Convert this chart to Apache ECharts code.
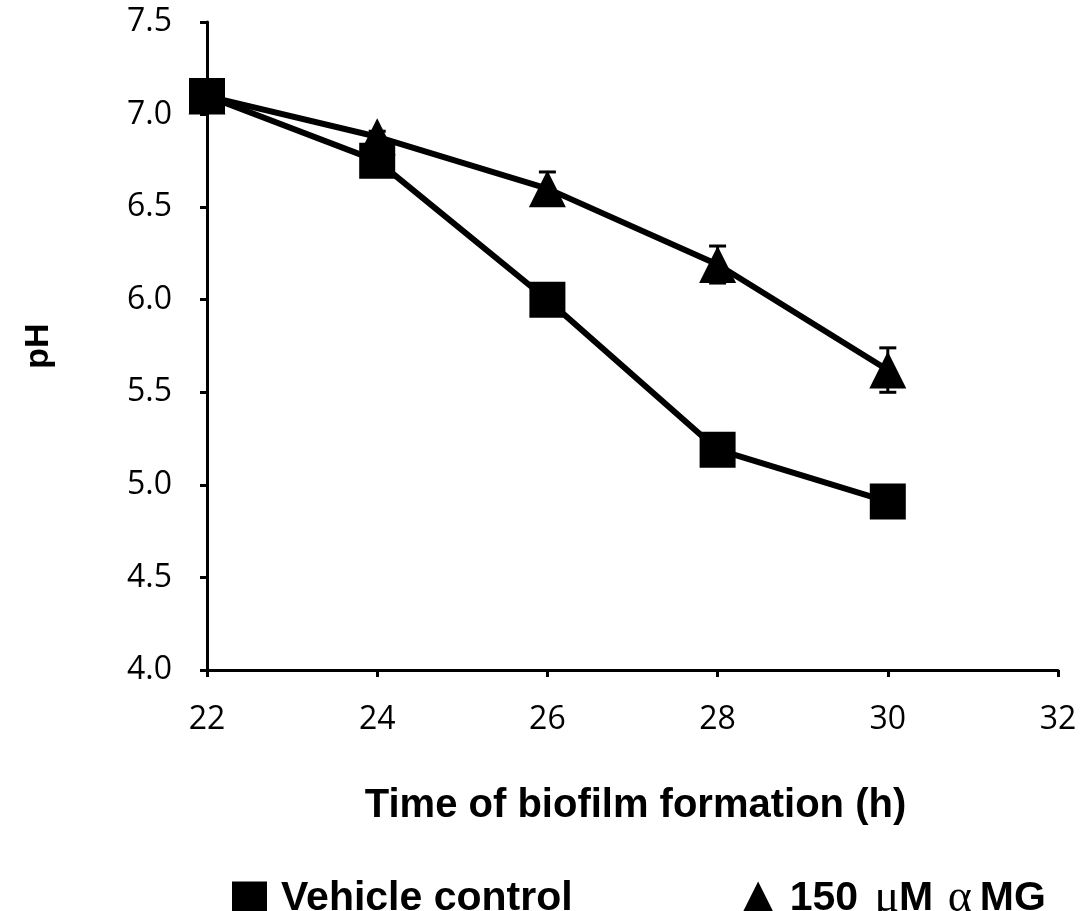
<!DOCTYPE html>
<html>
<head>
<meta charset="utf-8">
<script src="https://cdn.jsdelivr.net/npm/echarts@6/dist/echarts.min.js"></script>
<style>
html,body{margin:0;padding:0;background:#fff;}
#chart{width:1080px;height:911px;}
</style>
</head>
<body>
<div id="chart"></div>
<script>
// Data
var hours = [22, 24, 26, 28, 30];
var vehicleControl = [7.1, 6.75, 6.0, 5.19, 4.91];
var alphaMG = [7.1, 6.88, 6.6, 6.19, 5.62];
var alphaMGErr = [0, 0.03, 0.09, 0.1, 0.12];
var xTicks = [22, 24, 26, 28, 30, 32];
var yTicks = [4.0, 4.5, 5.0, 5.5, 6.0, 6.5, 7.0, 7.5];
var seriesNames = ['Vehicle control', '150 μM αMG'];

var chart = echarts.init(document.getElementById('chart'), null, {renderer: 'canvas'});

function pairs(vals) {
  return hours.map(function (h, i) { return [h, vals[i]]; });
}

var errData = hours.map(function (h, i) { return [h, alphaMG[i], alphaMGErr[i]]; });

var option = {
  backgroundColor: '#ffffff',
  animation: false,
  grid: {left: 207, right: 22, top: 22, bottom: 241, containLabel: false},
  xAxis: {
    type: 'value',
    min: xTicks[0], max: xTicks[xTicks.length - 1], interval: 2,
    name: 'Time of biofilm formation (h)',
    nameLocation: 'middle',
    nameGap: 116,
    nameTextStyle: {fontFamily: 'Liberation Sans, Arial, sans-serif', fontWeight: 'bold', fontSize: 40, color: '#000', padding: [0, 0, 0, 6]},
    axisLine: {show: true, lineStyle: {color: '#000', width: 3}},
    axisTick: {show: true, length: 7, lineStyle: {color: '#000', width: 3}},
    axisLabel: {color: '#000', fontFamily: 'Open Sans, sans-serif', fontSize: 32, margin: 34},
    splitLine: {show: false}
  },
  yAxis: {
    type: 'value',
    min: yTicks[0], max: yTicks[yTicks.length - 1], interval: 0.5,
    name: 'pH',
    nameLocation: 'middle',
    nameGap: 151,
    nameRotate: 90,
    nameTextStyle: {fontFamily: 'Liberation Sans, Arial, sans-serif', fontWeight: 'bold', fontSize: 34, color: '#000'},
    axisLine: {show: true, lineStyle: {color: '#000', width: 3}},
    axisTick: {show: true, length: 7, lineStyle: {color: '#000', width: 3}},
    axisLabel: {color: '#000', fontFamily: 'Open Sans, sans-serif', fontSize: 32, margin: 35,
      formatter: function (v) { return v.toFixed(1); }},
    splitLine: {show: false}
  },
  legend: {
    left: 227, top: 871,
    itemWidth: 35, itemHeight: 35, itemGap: 168,
    selectedMode: false,
    data: [
      {name: seriesNames[0], icon: 'rect'},
      {name: seriesNames[1], icon: 'triangle'}
    ],
    formatter: function (name) {
      if (name === seriesNames[1]) {
        return '{b|150 }{g1|μ}{b|M }{g2|α}{b|MG}';
      }
      return '{b|' + name + '}';
    },
    textStyle: {
      padding: [0, 0, 0, 9],
      rich: {
        b: {fontFamily: 'Liberation Sans, Arial, sans-serif', fontWeight: 'bold', fontSize: 41, color: '#000'},
        g1: {fontFamily: 'Liberation Serif, Times New Roman, serif', fontWeight: 'normal', fontSize: 46, color: '#000', padding: [0, 0, 0, 5]},
        g2: {fontFamily: 'Liberation Serif, Times New Roman, serif', fontWeight: 'normal', fontSize: 46, color: '#000', padding: [0, 8, 0, 3]}
      }
    }
  },
  series: [
    {
      name: seriesNames[1],
      type: 'line',
      data: pairs(alphaMG),
      symbol: 'triangle',
      symbolSize: [37, 37],
      lineStyle: {color: '#000', width: 6},
      itemStyle: {color: '#000', borderWidth: 0},
      z: 2
    },
    {
      name: 'errorbars',
      type: 'custom',
      data: errData,
      z: 3,
      renderItem: function (params, api) {
        var x = api.value(0), y = api.value(1), e = api.value(2);
        if (!e) return null;
        var top = api.coord([x, y + e]);
        var bot = api.coord([x, y - e]);
        var hw = 8.5;
        var st = {stroke: '#000', lineWidth: 3};
        return {
          type: 'group',
          children: [
            {type: 'line', shape: {x1: top[0], y1: top[1], x2: bot[0], y2: bot[1]}, style: st},
            {type: 'line', shape: {x1: top[0] - hw, y1: top[1], x2: top[0] + hw, y2: top[1]}, style: st},
            {type: 'line', shape: {x1: bot[0] - hw, y1: bot[1], x2: bot[0] + hw, y2: bot[1]}, style: st}
          ]
        };
      }
    },
    {
      name: seriesNames[0],
      type: 'line',
      data: pairs(vehicleControl),
      symbol: 'rect',
      symbolSize: [36, 36],
      lineStyle: {color: '#000', width: 6},
      itemStyle: {color: '#000', borderWidth: 0},
      z: 4
    }
  ]
};
chart.setOption(option);
</script>
</body>
</html>
